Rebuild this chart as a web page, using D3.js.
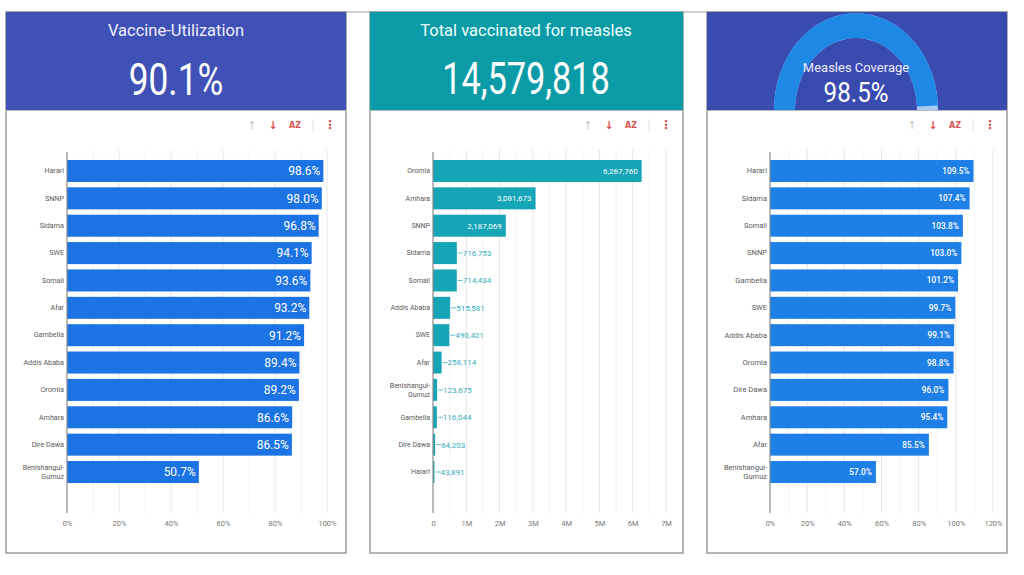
<!DOCTYPE html>
<html>
<head>
<meta charset="utf-8">
<script src="https://cdn.jsdelivr.net/npm/d3@7"></script>
<style>
  body { margin: 0; background: #fff; }
  svg { display: block; font-family: Roboto, sans-serif; }
</style>
</head>
<body>
<svg width="1024" height="575"></svg>
<script>
// KPI values
var utilizationKpi = 90.1;
var totalVaccinated = 14579818;
var coverageKpi = 98.5;

// vaccine utilization by region (%)
var utilCategories = ['Harari', 'SNNP', 'Sidama', 'SWE', 'Somali', 'Afar', 'Gambella', 'Addis Ababa', 'Oromia', 'Amhara', 'Dire Dawa', 'Benishangul-Gumuz'];
var utilValues = [98.6, 98.0, 96.8, 94.1, 93.6, 93.2, 91.2, 89.4, 89.2, 86.6, 86.5, 50.7];
var utilTicks = [0, 20, 40, 60, 80, 100];

// total vaccinated for measles by region
var measlesCategories = ['Oromia', 'Amhara', 'SNNP', 'Sidama', 'Somali', 'Addis Ababa', 'SWE', 'Afar', 'Benishangul-Gumuz', 'Gambella', 'Dire Dawa', 'Harari'];
var measlesValues = [6267760, 3081673, 2187069, 716753, 714434, 515581, 490421, 258114, 123675, 116044, 64203, 43891];
var measlesTicks = [0, 1e6, 2e6, 3e6, 4e6, 5e6, 6e6, 7e6];

// measles coverage by region (%)
var coverageCategories = ['Harari', 'Sidama', 'Somali', 'SNNP', 'Gambella', 'SWE', 'Addis Ababa', 'Oromia', 'Dire Dawa', 'Amhara', 'Afar', 'Benishangul-Gumuz'];
var coverageValues = [109.5, 107.4, 103.8, 103.0, 101.2, 99.7, 99.1, 98.8, 96.0, 95.4, 85.5, 57.0];
var coverageTicks = [0, 20, 40, 60, 80, 100, 120];

var svg = d3.select("svg");

// top rule across the panels
svg.append("line")
    .attr("x1", 6).attr("x2", 1007)
    .attr("y1", 12).attr("y2", 12)
    .attr("stroke", "#a0a0a0").attr("stroke-width", 1.2);

function panelFrame(x, w, headerColor) {
    var g = svg.append("g");
    g.append("rect")
        .attr("x", x).attr("y", 12)
        .attr("width", w).attr("height", 541)
        .attr("fill", "#fff")
        .attr("stroke", "#9a9a9a").attr("stroke-width", 1.5);
    g.append("rect")
        .attr("x", x).attr("y", 12)
        .attr("width", w).attr("height", 98)
        .attr("fill", headerColor);
    g.append("line")
        .attr("x1", x).attr("x2", x + w)
        .attr("y1", 110.5).attr("y2", 110.5)
        .attr("stroke", "#b8b8b8");
    return g;
}

function toolbar(g, xUp) {
    var t = g.append("g").attr("transform", "translate(" + xUp + ",125)")
        .attr("font-family", "DejaVu Sans, sans-serif");
    t.append("text").attr("x", 0).attr("dy", "0.35em").attr("text-anchor", "middle")
        .attr("font-size", 11).attr("fill", "#c4c4c4").text("↑");
    t.append("text").attr("x", 21).attr("dy", "0.35em").attr("text-anchor", "middle")
        .attr("font-size", 11).attr("fill", "#d9534f").attr("font-weight", "bold").text("↓");
    t.append("text").attr("x", 43).attr("dy", "0.35em").attr("text-anchor", "middle")
        .attr("font-size", 8).attr("fill", "#d9534f").attr("font-weight", "bold").text("AZ");
    t.append("line").attr("x1", 61).attr("x2", 61).attr("y1", -6).attr("y2", 6)
        .attr("stroke", "#e2e2e2");
    t.append("text").attr("x", 78).attr("dy", "0.35em").attr("text-anchor", "middle")
        .attr("font-size", 12).attr("fill", "#d9534f").attr("font-weight", "bold").text("⋮");
}

function kpiText(g, cx, y, size, sx, txt) {
    g.append("text")
        .attr("transform", "translate(" + cx + "," + y + ") scale(" + sx + ",1)")
        .attr("text-anchor", "middle")
        .attr("fill", "#fff")
        .attr("font-size", size)
        .text(txt);
}

function barChart(g, opt) {
    var x = d3.scaleLinear().domain(opt.domain).range(opt.xRange);
    var y = d3.scaleBand().domain(opt.categories)
        .range([157.3, 485.7]).paddingInner(0.196).paddingOuter(0.098);
    var x0 = x(0);
    var data = opt.categories.map(function(c, i) { return {cat: c, val: opt.values[i]}; });

    // grid lines (minor every half step)
    var step = opt.ticks[1] - opt.ticks[0];
    var grid = d3.range(0, opt.domain[1] + step / 4, step / 2).slice(1);
    g.append("g").selectAll("line")
        .data(grid)
        .enter()
        .append("line")
        .attr("x1", function(d) { return x(d); })
        .attr("x2", function(d) { return x(d); })
        .attr("y1", 150).attr("y2", 513)
        .attr("stroke", function(d, i) { return i % 2 ? "#e6e6e6" : "#f1f1f1"; });

    // bars
    g.append("g").selectAll("rect")
        .data(data)
        .enter()
        .append("rect")
        .attr("x", x0)
        .attr("y", function(d) { return y(d.cat); })
        .attr("width", function(d) { return x(d.val) - x0; })
        .attr("height", y.bandwidth())
        .attr("fill", opt.color);

    // vertical axis line
    g.append("line")
        .attr("x1", x0).attr("x2", x0)
        .attr("y1", 152).attr("y2", 513)
        .attr("stroke", "#8a8a8a").attr("stroke-width", 1.2);

    // category labels
    var yAxis = g.append("g")
        .attr("transform", "translate(" + (x0 - 2) + ",0)")
        .call(d3.axisLeft(y).tickSize(0).tickPadding(1));
    yAxis.select(".domain").remove();
    yAxis.selectAll("text")
        .attr("font-family", "Roboto, sans-serif")
        .attr("font-size", opt.catSize)
        .attr("fill", "#5a5a5a")
        .each(function(d) {
            if (d.indexOf("-") > 0) {
                var parts = d.split("-");
                var t = d3.select(this).text(null);
                t.append("tspan").attr("x", -1).attr("dy", "-0.25em").text(parts[0] + "-");
                t.append("tspan").attr("x", -1).attr("dy", "1.2em").text(parts[1]);
            }
        });

    // x axis ticks
    var xAxis = g.append("g")
        .attr("transform", "translate(0,518)")
        .call(d3.axisBottom(x).tickValues(opt.ticks).tickSize(0).tickPadding(3).tickFormat(opt.tickFormat));
    xAxis.select(".domain").remove();
    xAxis.selectAll("text")
        .attr("font-family", "Roboto, sans-serif")
        .attr("font-size", 7.5)
        .attr("fill", "#777");

    // value labels
    var labels = g.append("g").selectAll("g")
        .data(data)
        .enter()
        .append("g")
        .attr("transform", function(d) { return "translate(0," + (y(d.cat) + y.bandwidth() / 2) + ")"; });

    labels.each(function(d) {
        var lg = d3.select(this);
        var w = x(d.val) - x0;
        if (!opt.outside || w > opt.outside) {
            lg.append("text")
                .attr("x", x(d.val) - opt.pad)
                .attr("dy", "0.36em")
                .attr("text-anchor", "end")
                .attr("fill", "#fff")
                .attr("font-size", opt.valSize)
                .attr("font-weight", opt.valWeight)
                .text(opt.valFormat(d.val));
        } else {
            lg.append("line")
                .attr("x1", x(d.val) + 1).attr("x2", x(d.val) + 6)
                .attr("stroke", opt.outColor).attr("stroke-width", 0.8);
            lg.append("text")
                .attr("x", x(d.val) + 6)
                .attr("dy", "0.36em")
                .attr("fill", opt.outColor)
                .attr("font-size", opt.valSize)
                .text(opt.valFormat(d.val));
        }
    });
}

// ---------- panel 1: vaccine utilization ----------
var p1 = panelFrame(6, 340, "#3f51b5");
p1.append("text").attr("x", 176).attr("y", 36).attr("text-anchor", "middle")
    .attr("fill", "#eef").attr("font-size", 16.5).text("Vaccine-Utilization");
kpiText(p1, 176, 95, 44, 0.8, d3.format(".1f")(utilizationKpi) + "%");
toolbar(p1, 252);
barChart(p1, {
    categories: utilCategories,
    values: utilValues,
    domain: [0, 100],
    xRange: [67, 327],
    ticks: utilTicks,
    tickFormat: function(d) { return d + "%"; },
    color: "#1c73e4",
    catSize: 7.2,
    valSize: 12,
    valWeight: 400,
    pad: 3,
    valFormat: function(v) { return d3.format(".1f")(v) + "%"; }
});

// ---------- panel 2: total vaccinated for measles ----------
var p2 = panelFrame(370, 313, "#0a9ba6");
p2.append("text").attr("x", 526).attr("y", 36).attr("text-anchor", "middle")
    .attr("fill", "#eff").attr("font-size", 16.5).text("Total vaccinated for measles");
kpiText(p2, 526, 94, 44, 0.78, d3.format(",")(totalVaccinated));
toolbar(p2, 588);
barChart(p2, {
    categories: measlesCategories,
    values: measlesValues,
    domain: [0, 7e6],
    xRange: [433, 666],
    ticks: measlesTicks,
    tickFormat: function(d) { return d === 0 ? "0" : (d / 1e6) + "M"; },
    color: "#16a5b6",
    catSize: 7,
    valSize: 8,
    valWeight: 400,
    pad: 4,
    outside: 50,
    outColor: "#36aec0",
    valFormat: d3.format(",")
});

// ---------- panel 3: measles coverage ----------
var p3 = panelFrame(707, 300, "#3a4bb0");
var gaugeClip = svg.append("defs").append("clipPath").attr("id", "gclip");
gaugeClip.append("rect").attr("x", 707).attr("y", 12).attr("width", 300).attr("height", 98);
var gauge = p3.append("g")
    .attr("clip-path", "url(#gclip)")
    .append("g")
    .attr("transform", "translate(856,110) scale(1,1.18)");
var gArc = d3.arc().innerRadius(61).outerRadius(82);
var gAngle = d3.scaleLinear().domain([0, 100]).range([-Math.PI / 2, Math.PI / 2]);
gauge.append("path")
    .attr("d", gArc({startAngle: gAngle(0), endAngle: gAngle(100)}))
    .attr("fill", "#a9c9f2");
gauge.append("path")
    .attr("d", gArc({startAngle: gAngle(0), endAngle: gAngle(coverageKpi)}))
    .attr("fill", "#1e88e5");
p3.append("text").attr("x", 856).attr("y", 72).attr("text-anchor", "middle")
    .attr("fill", "#eef").attr("font-size", 13).text("Measles Coverage");
kpiText(p3, 856, 102, 27.5, 0.88, d3.format(".1f")(coverageKpi) + "%");
toolbar(p3, 912);
barChart(p3, {
    categories: coverageCategories,
    values: coverageValues,
    domain: [0, 120],
    xRange: [770, 993],
    ticks: coverageTicks,
    tickFormat: function(d) { return d + "%"; },
    color: "#1e80e6",
    catSize: 7.5,
    valSize: 8.3,
    valWeight: 500,
    pad: 4,
    valFormat: function(v) { return d3.format(".1f")(v) + "%"; }
});
</script>
</body>
</html>
